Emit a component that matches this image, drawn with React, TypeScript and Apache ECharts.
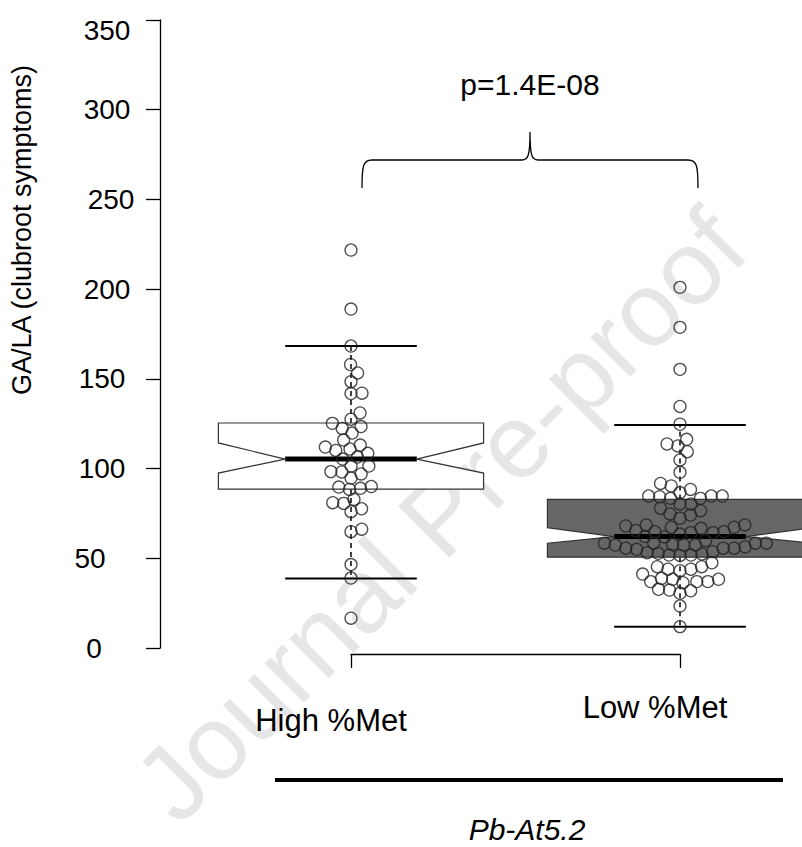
import React, { useEffect, useRef } from 'react';
import * as echarts from 'echarts';

const FONT = '"Liberation Sans", Arial, Helvetica, sans-serif';

const groupNames = ['High %Met', 'Low %Met'];
const groupPositions = [1, 2];
const yTicks = [0, 50, 100, 150, 200, 250, 300, 350];
const yAxisTitle = 'GA/LA (clubroot symptoms)';
const pValueLabel = 'p=1.4E-08';
const strainLabel = 'Pb-At5.2';
const watermark = 'Journal Pre-proof';

const highValues = [
  221.8, 188.9, 168.3, 158.0, 153.3, 148.4, 141.8, 142.0, 131.0, 127.5, 125.2, 122.4, 123.4, 119.8,
  115.9, 110.9, 112.0, 113.1, 108.5, 110.1, 105.3, 106.4, 101.4, 101.4, 98.3, 97.0, 98.1, 94.7,
  89.7, 88.4, 89.0, 90.0, 80.6, 81.0, 82.8, 76.0, 77.6, 64.8, 66.2, 46.5, 39.0, 16.6,
];

const lowValues = [
  353.3, 201.0, 178.7, 155.3, 134.6, 124.7, 113.7, 112.6, 116.3, 109.4, 104.8, 97.9,
  88.4, 84.7, 86.6, 90.3, 91.7, 84.7, 83.4, 83.4, 84.3, 84.7, 80.3, 80.3, 77.9, 76.5,
  74.7, 74.1, 72.3, 68.6, 68.0, 65.5, 64.8, 67.3, 64.3, 66.7, 64.8, 68.6, 64.3, 67.3,
  62.1, 61.9, 63.5, 58.4, 57.4, 56.3, 55.6, 55.0, 52.8, 51.8, 51.6, 53.7, 51.8, 52.4,
  53.1, 55.6, 55.6, 57.4, 58.4, 59.8, 58.4, 57.7, 58.4, 57.4, 45.3, 43.9, 43.1, 47.5,
  41.2, 43.9, 45.3, 38.3, 37.0, 38.8, 37.0, 36.4, 37.0, 38.3, 32.7, 32.3, 30.5, 31.9,
  23.4, 11.9,
];

// [lower whisker, Q1, notch low, median, notch high, Q3, upper whisker]
const highStats = [38.8, 88.6, 97.5, 105.3, 114.3, 125.4, 168.3];
const lowStats = [11.9, 50.6, 58.4, 62.1, 67.1, 82.8, 124.3];

const boxFills = ['#ffffff', '#666666'];
const BW = 0.403;
const NW = 0.2;
const SWARM_GAP = 11;

echarts.graphic.registerShape(
  'brace',
  echarts.graphic.extendPath(
    'M362,188 C362,166 363,160 372,160 L522,160 C528,160 530,156 530,132 C530,156 532,160 538,160 L688,160 C697,160 698,166 698,188',
    {}
  )
);

function swarm(yPx: number[], gap: number): number[] {
  const order = yPx.map((_, i) => i).sort((a, b) => yPx[b] - yPx[a]);
  const placed: { x: number; y: number }[] = [];
  const out = new Array(yPx.length).fill(0);
  for (const i of order) {
    const y = yPx[i];
    const near = placed
      .filter((p) => Math.abs(p.y - y) < gap)
      .sort((a, b) => Math.abs(a.x) - Math.abs(b.x));
    let x = 0;
    if (near.length) {
      const cands: number[] = [0];
      near.forEach((p) => cands.push(p.x + Math.sqrt(gap * gap - (p.y - y) ** 2)));
      near.forEach((p) => cands.push(p.x - Math.sqrt(gap * gap - (p.y - y) ** 2)));
      let best = Infinity;
      for (const c of cands) {
        const bad = near.some((p) => (p.x - c) ** 2 + (p.y - y) ** 2 < 0.999 * gap * gap);
        if (!bad && Math.abs(c) < Math.abs(best)) best = c;
      }
      x = best;
    }
    placed.push({ x, y });
    out[i] = x;
  }
  return out;
}

const yLabelPad: Record<string, number[]> = {
  t350: [20, 0, 0, 0],
  t300: [0, 0, 0, 0],
  t250: [0, 0, 0, 8],
  t200: [0, 0, 0, 0],
  t150: [0, 10, 0, 0],
  t100: [0, 10, 0, 0],
  t50: [0, 34, 0, 0],
  t0: [0, 26, 0, 0],
};

export default function App() {
  const ref = useRef<HTMLDivElement>(null);
  useEffect(() => {
    document.body.style.margin = '0';
    const chart = echarts.init(ref.current!, null, { renderer: 'svg' });
    const rich: Record<string, any> = {};
    yTicks.forEach((t) => {
      rich['t' + t] = { fontSize: 28, fontFamily: FONT, color: '#000', padding: yLabelPad['t' + t] };
    });
    const axisColor = '#000';
    const option: any = {
      animation: false,
      backgroundColor: '#fff',
      grid: [
        { left: 160, top: 20, width: 642, height: 628 },
        { left: 351, top: 653, width: 329, height: 1 },
      ],
      xAxis: [
        { gridIndex: 0, type: 'value', min: 0.4195, max: 2.3708, show: false },
        {
          gridIndex: 1,
          type: 'value',
          min: 1,
          max: 2,
          interval: 1,
          position: 'bottom',
          axisLine: { show: true, onZero: false, lineStyle: { color: axisColor, width: 1.3 } },
          axisTick: { show: true, length: 14, lineStyle: { color: axisColor, width: 1.3 } },
          splitLine: { show: false },
          axisLabel: {
            margin: 53,
            align: 'center',
            verticalAlign: 'middle',
            fontSize: 31,
            fontFamily: FONT,
            color: '#000',
            formatter: (v: number) => {
              const i = groupPositions.indexOf(v);
              return `{g${i}|${groupNames[i]}}`;
            },
            rich: {
              g0: { fontSize: 31, fontFamily: FONT, color: '#000', padding: [26, 40, 0, 0] },
              g1: { fontSize: 31, fontFamily: FONT, color: '#000', padding: [0, 50, 0, 0] },
            },
          },
        },
      ],
      yAxis: [
        {
          gridIndex: 0,
          type: 'value',
          min: 0,
          max: 350,
          interval: 50,
          axisLine: { show: true, lineStyle: { color: axisColor, width: 1.3 } },
          axisTick: { show: true, length: 14, lineStyle: { color: axisColor, width: 1.3 } },
          splitLine: { show: false },
          axisLabel: {
            margin: 53,
            align: 'center',
            verticalAlign: 'middle',
            fontSize: 28,
            fontFamily: FONT,
            color: '#000',
            formatter: (v: number) => `{t${v}|${v}}`,
            rich,
          },
        },
        { gridIndex: 1, type: 'value', show: false },
      ],
      graphic: [
        {
          type: 'text',
          z: -100,
          x: 440,
          y: 515,
          rotation: Math.PI / 4,
          style: {
            text: watermark,
            fontSize: 105,
            fontFamily: FONT,
            fill: '#e6e6e6',
            align: 'center',
            verticalAlign: 'middle',
          },
        },
        {
          type: 'text',
          x: 22,
          y: 230,
          rotation: Math.PI / 2,
          style: {
            text: yAxisTitle,
            fontSize: 27,
            fontFamily: FONT,
            fill: '#000',
            align: 'center',
            verticalAlign: 'middle',
          },
        },
        {
          type: 'text',
          x: 530,
          y: 84,
          style: {
            text: pValueLabel,
            fontSize: 30,
            fontFamily: FONT,
            fill: '#000',
            align: 'center',
            verticalAlign: 'middle',
          },
        },
        {
          type: 'brace',
          x: 0,
          y: 0,
          style: { stroke: '#000', fill: 'none', lineWidth: 1.3 },
        },
        {
          type: 'line',
          shape: { x1: 275, y1: 780, x2: 783, y2: 780 },
          style: { stroke: '#000', lineWidth: 4 },
        },
        {
          type: 'text',
          x: 527,
          y: 829,
          style: {
            text: strainLabel,
            fontSize: 30,
            fontStyle: 'italic',
            fontFamily: FONT,
            fill: '#000',
            align: 'center',
            verticalAlign: 'middle',
          },
        },
      ],
      series: [
        {
          id: 'boxes',
          type: 'custom',
          xAxisIndex: 0,
          yAxisIndex: 0,
          z: 1,
          data: [
            [groupPositions[0], ...highStats],
            [groupPositions[1], ...lowStats],
          ],
          renderItem: (params: any, api: any) => {
            const cx = api.value(0) as number;
            const [wLo, q1, nLo, med, nHi, q3, wHi] = [1, 2, 3, 4, 5, 6, 7].map((i) => api.value(i) as number);
            const p = (dx: number, v: number) => api.coord([cx + dx, v]);
            const seg = (a: number[], b: number[], style: any) => ({
              type: 'line',
              shape: { x1: a[0], y1: a[1], x2: b[0], y2: b[1] },
              style,
            });
            const dash = { stroke: '#000', lineWidth: 1.5, lineDash: [5, 4] };
            const cap = { stroke: '#000', lineWidth: 2 };
            const pts = [
              p(-BW, q3), p(BW, q3), p(BW, nHi), p(NW, med), p(BW, nLo), p(BW, q1),
              p(-BW, q1), p(-BW, nLo), p(-NW, med), p(-BW, nHi),
            ];
            return {
              type: 'group',
              children: [
                seg(p(0, q3), p(0, wHi), dash),
                seg(p(0, q1), p(0, wLo), dash),
                seg(p(-NW, wHi), p(NW, wHi), cap),
                seg(p(-NW, wLo), p(NW, wLo), cap),
                {
                  type: 'polygon',
                  shape: { points: pts },
                  style: { fill: boxFills[params.dataIndex], stroke: '#333', lineWidth: 1.2 },
                },
                seg(p(-NW, med), p(NW, med), { stroke: '#000', lineWidth: 5 }),
              ],
            };
          },
        },
        {
          id: 'points',
          type: 'scatter',
          xAxisIndex: 0,
          yAxisIndex: 0,
          z: 3,
          symbol: 'circle',
          symbolSize: 12,
          itemStyle: { color: 'rgba(0,0,0,0)', borderColor: '#222', borderWidth: 1.3 },
          data: [],
        },
      ],
    };
    chart.setOption(option);

    const ref0 = chart.convertToPixel({ xAxisIndex: 0, yAxisIndex: 0 }, [1, 0]) as number[];
    const ref1 = chart.convertToPixel({ xAxisIndex: 0, yAxisIndex: 0 }, [2, 0]) as number[];
    const pxPerX = ref1[0] - ref0[0];
    const toY = (v: number) => (chart.convertToPixel({ xAxisIndex: 0, yAxisIndex: 0 }, [1, v]) as number[])[1];
    const data: number[][] = [];
    [highValues, lowValues].forEach((vals, gi) => {
      const offs = swarm(vals.map(toY), SWARM_GAP);
      vals.forEach((v, i) => data.push([groupPositions[gi] + offs[i] / pxPerX, v]));
    });
    chart.setOption({ series: [{ id: 'points', data }] });

    return () => chart.dispose();
  }, []);
  return <div ref={ref} style={{ width: 802, height: 847 }} />;
}
